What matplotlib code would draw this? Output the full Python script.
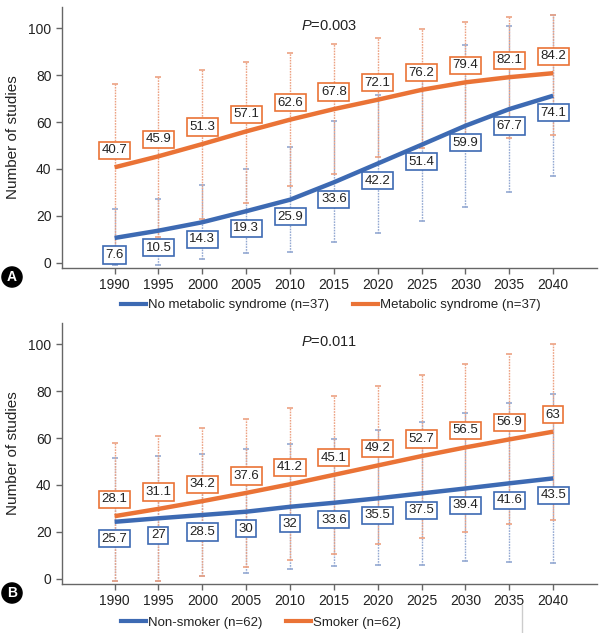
import matplotlib
matplotlib.use("Agg")
import matplotlib.pyplot as plt
from matplotlib import font_manager
from matplotlib.lines import Line2D

names = {f.name for f in font_manager.fontManager.ttflist}
FONT = "Liberation Sans Narrow" if "Liberation Sans Narrow" in names else "Liberation Sans"
plt.rcParams["font.family"] = [FONT, "DejaVu Sans"]
plt.rcParams["mathtext.fontset"] = "custom"
plt.rcParams["mathtext.it"] = FONT + ":italic"
plt.rcParams["mathtext.rm"] = FONT

years = [1990, 1995, 2000, 2005, 2010, 2015, 2020, 2025, 2030, 2035, 2040]

# --- panel A: metabolic syndrome ---
a_blue_fit   = [10.6, 13.7, 17.3, 22.0, 26.9, 34.3, 42.3, 50.3, 58.4, 65.5, 71.2]
a_orange_fit = [40.7, 45.4, 50.6, 56.0, 61.0, 65.5, 69.5, 73.7, 76.9, 79.1, 80.8]
a_blue_lbl   = [7.6, 10.5, 14.3, 19.3, 25.9, 33.6, 42.2, 51.4, 59.9, 67.7, 74.1]
a_orange_lbl = [40.7, 45.9, 51.3, 57.1, 62.6, 67.8, 72.1, 76.2, 79.4, 82.1, 84.2]
a_blue_lo    = [-1, -1, 1.5, 4.3, 4.7, 8.8, 12.8, 17.7, 23.8, 30.2, 36.9]
a_blue_hi    = [23.0, 27.4, 33.3, 40.1, 49.5, 60.5, 71.6, 83.0, 92.8, 100.7, 105.8]
a_orange_lo  = [4.5, 11.2, 18.5, 25.7, 32.6, 38.0, 45.0, 49.0, 52.0, 53.0, 54.6]
a_orange_hi  = [76.0, 79.3, 82.1, 85.4, 89.3, 93.2, 96.0, 99.6, 102.4, 104.7, 105.8]

# --- panel B: smoking ---
b_blue_fit   = [24.3, 25.8, 27.2, 28.6, 30.7, 32.4, 34.3, 36.4, 38.5, 40.7, 42.8]
b_orange_fit = [26.7, 29.8, 33.1, 36.6, 40.3, 44.3, 48.3, 52.3, 56.0, 59.4, 62.7]
b_blue_lbl   = [25.7, 27, 28.5, 30, 32, 33.6, 35.5, 37.5, 39.4, 41.6, 43.5]
b_orange_lbl = [28.1, 31.1, 34.2, 37.6, 41.2, 45.1, 49.2, 52.7, 56.5, 56.9, 63]
b_blue_lo    = [-1, -1, 1.2, 2.3, 4.4, 5.4, 5.8, 6.1, 7.5, 7.0, 6.6]
b_blue_hi    = [51.6, 52.4, 53.3, 55.2, 57.3, 59.6, 63.4, 66.7, 70.6, 74.8, 78.8]
b_orange_lo  = [-1, -1, 1.2, 5.1, 8.0, 10.5, 14.8, 17.5, 20.1, 23.2, 25.0]
b_orange_hi  = [57.8, 60.9, 64.4, 68.0, 72.7, 77.9, 82.2, 86.9, 91.6, 95.9, 100.0]

BLUE, ORANGE = "#3d6ab3", "#ea7336"
BLUE_EB, ORANGE_EB = "#94a9d2", "#eca283"
AXC = "#666666"

fig = plt.figure(figsize=(6.06, 6.33), dpi=100)
axA = fig.add_axes([62/606, 1-268/633, 535/606, 261/633])
axB = fig.add_axes([62/606, 1-584/633, 535/606, 261/633])


def errbars(ax, lo, hi, color, z):
    ax.vlines(years, lo, hi, colors=color, lw=1.0, linestyles=(0, (1.2, 0.8)), zorder=z)
    ax.scatter(years, hi, marker="_", s=22, color=color, lw=1.2, zorder=z, clip_on=False)
    ax.scatter(years, lo, marker="_", s=22, color=color, lw=1.2, zorder=z)


def labels(ax, fit, lbl, color, dy):
    for x, y, v in zip(years, fit, lbl):
        ax.annotate(f"{v:g}", (x, y), xytext=(0, dy), textcoords="offset pixels",
                    ha="center", va="center", fontsize=9.5, color="#222222", zorder=5,
                    bbox=dict(boxstyle="square,pad=0.2", fc="white", ec=color, lw=1.2))


def panel(ax, bfit, ofit, blbl, olbl, blo, bhi, olo, ohi, ptxt):
    errbars(ax, blo, bhi, BLUE_EB, 1)
    errbars(ax, olo, ohi, ORANGE_EB, 1.5)
    ax.plot(years, ofit, color=ORANGE, lw=3.2, solid_capstyle="butt", zorder=3)
    ax.plot(years, bfit, color=BLUE, lw=3.2, solid_capstyle="butt", zorder=3)
    labels(ax, ofit, olbl, ORANGE, 17)
    labels(ax, bfit, blbl, BLUE, -17)
    ax.text(2014.5, 101, ptxt, ha="center", va="center", fontsize=10.5, color="#222222")
    ax.set_xlim(1984, 2045)
    ax.set_ylim(-2.2, 109)
    ax.set_xticks(years)
    ax.set_yticks([0, 20, 40, 60, 80, 100])
    ax.set_ylabel("Number of studies", fontsize=11, color="#222222", labelpad=6)
    ax.tick_params(axis="both", labelsize=10, colors=AXC, labelcolor="#222222",
                   length=4, width=1)
    for s in ["top", "right"]:
        ax.spines[s].set_visible(False)
    for s in ["left", "bottom"]:
        ax.spines[s].set_color(AXC)
        ax.spines[s].set_linewidth(1)


panel(axA, a_blue_fit, a_orange_fit, a_blue_lbl, a_orange_lbl,
      a_blue_lo, a_blue_hi, a_orange_lo, a_orange_hi, r"$P$=0.003")
panel(axB, b_blue_fit, b_orange_fit, b_blue_lbl, b_orange_lbl,
      b_blue_lo, b_blue_hi, b_orange_lo, b_orange_hi, r"$P$=0.011")

handles = [Line2D([], [], color=BLUE, lw=3), Line2D([], [], color=ORANGE, lw=3)]
for lab, yy in [(["No metabolic syndrome (n=37)", "Metabolic syndrome (n=37)"], 1-305/633),
                (["Non-smoker (n=62)", "Smoker (n=62)"], 1-622.5/633)]:
    leg = fig.legend(handles, lab, loc="center left", bbox_to_anchor=(121/606, yy),
                     ncol=2, frameon=False, fontsize=9.5, handlelength=1.9,
                     handletextpad=0.15, columnspacing=1.8, borderpad=0, borderaxespad=0)
    for t in leg.get_texts():
        t.set_color("#222222")

for letter, yy in [("A", 1-277/633), ("B", 1-593/633)]:
    fig.text(12/606, yy, letter, ha="center", va="center", color="white",
             fontsize=10, fontweight="bold",
             bbox=dict(boxstyle="circle,pad=0.22", fc="black", ec="black"))

# thin gray rule at the bottom of the page
fig.add_artist(Line2D([521.7/606, 521.7/606], [0, 1-605/633], color="#cccccc", lw=1))

fig.savefig("out.png", dpi=100)
